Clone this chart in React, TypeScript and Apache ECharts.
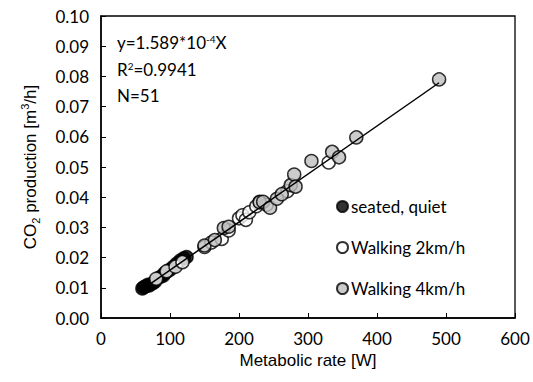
import React, { useEffect, useRef } from "react";
import * as echarts from "echarts";

const seatedX = [60, 62, 65, 68, 70, 75, 78, 85, 90, 92, 95, 100, 105, 110, 115, 120, 124];
const seatedY = [0.0098, 0.0102, 0.0105, 0.011, 0.0108, 0.0115, 0.012, 0.0135, 0.014, 0.0148, 0.0152, 0.016, 0.017, 0.018, 0.019, 0.0198, 0.0202];

const walk2X = [80, 95, 108, 118, 150, 160, 175, 185, 200, 205, 210, 215, 225, 230, 240, 270, 330];
const walk2Y = [0.013, 0.0155, 0.017, 0.0185, 0.0235, 0.025, 0.0262, 0.029, 0.033, 0.034, 0.0325, 0.035, 0.037, 0.0385, 0.0375, 0.042, 0.0515];

const walk4X = [150, 165, 178, 185, 230, 235, 245, 255, 262, 275, 280, 282, 305, 335, 345, 370, 490];
const walk4Y = [0.024, 0.0258, 0.0298, 0.0302, 0.0383, 0.0385, 0.0365, 0.0395, 0.041, 0.044, 0.0475, 0.0435, 0.052, 0.055, 0.0532, 0.0598, 0.079];

const fitX = [60, 490];
const fitY = [0.0095, 0.0779];

const xTicks = [0, 100, 200, 300, 400, 500, 600];
const seriesNames = ["seated, quiet", "Walking 2km/h", "Walking 4km/h"];
const annotLines = ["y=1.589*10{sup|-4}X", "R{sup|2}=0.9941", "N=51"];

const pts = (xs: number[], ys: number[]) => xs.map((x, i) => [x, ys[i]]);

const FONT = "Lato, 'Open Sans', sans-serif";
const AFONT = "'Liberation Sans', Arial, sans-serif";

export default function App() {
  const ref = useRef<HTMLDivElement>(null);
  useEffect(() => {
    if (!ref.current) return;
    const chart = echarts.init(ref.current, null, { renderer: "svg" });
    const scatterBase = {
      type: "scatter" as const,
      symbol: "circle",
      symbolSize: 13,
      z: 2,
    };
    chart.setOption({
      animation: false,
      backgroundColor: "#fff",
      grid: {
        left: 101,
        right: 18,
        top: 16,
        bottom: 64,
        show: true,
        borderColor: "#000",
        borderWidth: 1.3,
      },
      xAxis: {
        type: "value",
        min: 0,
        max: 600,
        interval: 100,
        name: "Metabolic rate [W]",
        nameLocation: "middle",
        nameGap: 28,
        nameTextStyle: { fontFamily: AFONT, fontSize: 17, color: "#000" },
        axisLine: { show: true, onZero: false, lineStyle: { color: "#000", width: 1.5 } },
        axisTick: { show: true, inside: true, length: 5, lineStyle: { color: "#000" } },
        axisLabel: {
          fontFamily: FONT,
          fontSize: 17,
          color: "#000",
          margin: 12,
          formatter: (v: number) => (xTicks.includes(v) ? String(v) : ""),
        },
        splitLine: { show: false },
      },
      yAxis: {
        type: "value",
        min: 0,
        max: 0.1,
        interval: 0.01,
        name: "CO{sub|2} production [m{sup|3}/h]",
        nameLocation: "middle",
        nameGap: 60,
        nameRotate: 90,
        nameTextStyle: {
          fontFamily: AFONT,
          fontSize: 17,
          color: "#000",
          lineHeight: 22,
          rich: {
            sub: { fontFamily: AFONT, fontSize: 11, lineHeight: 10, verticalAlign: "bottom", color: "#000" },
            sup: { fontFamily: AFONT, fontSize: 11, lineHeight: 10, verticalAlign: "top", color: "#000" },
          },
        },
        axisLine: { show: true, lineStyle: { color: "#000", width: 1.5 } },
        axisTick: { show: true, inside: true, length: 5, lineStyle: { color: "#000" } },
        axisLabel: {
          fontFamily: FONT,
          fontSize: 17,
          color: "#000",
          margin: 12,
          formatter: (v: number) => v.toFixed(2),
        },
        splitLine: { show: false },
      },
      legend: {
        orient: "vertical",
        left: 331,
        top: 193,
        itemWidth: 11,
        itemHeight: 11,
        itemGap: 24,
        icon: "circle",
        textStyle: { fontFamily: FONT, fontSize: 17, color: "#000", padding: [0, 0, 0, -2] },
        data: seriesNames,
      },
      graphic: annotLines.map((t, i) => ({
        type: "text",
        left: 117,
        top: 34 + i * 26.5,
        style: {
          text: t,
          font: `17px ${FONT}`,
          fill: "#000",
          rich: {
            sup: { fontFamily: FONT, fontSize: 10, verticalAlign: "top", fill: "#000" },
          },
        },
      })),
      series: [
        {
          ...scatterBase,
          name: seriesNames[0],
          data: pts(seatedX, seatedY),
          itemStyle: { color: "#000", borderColor: "#000", borderWidth: 1.5 },
        },
        {
          ...scatterBase,
          name: seriesNames[1],
          data: pts(walk2X, walk2Y),
          itemStyle: { color: "#fff", borderColor: "#000", borderWidth: 1.5 },
        },
        {
          ...scatterBase,
          name: seriesNames[2],
          data: pts(walk4X, walk4Y),
          itemStyle: { color: "#bfbfbf", borderColor: "#000", borderWidth: 1.5 },
        },
        {
          type: "line",
          name: "fit",
          data: pts(fitX, fitY),
          symbol: "none",
          z: 3,
          lineStyle: { color: "#000", width: 1.5 },
        },
      ],
    });
    return () => chart.dispose();
  }, []);
  return (
    <div
      ref={ref}
      style={{ position: "absolute", left: 0, top: 0, width: 533, height: 382 }}
    />
  );
}
